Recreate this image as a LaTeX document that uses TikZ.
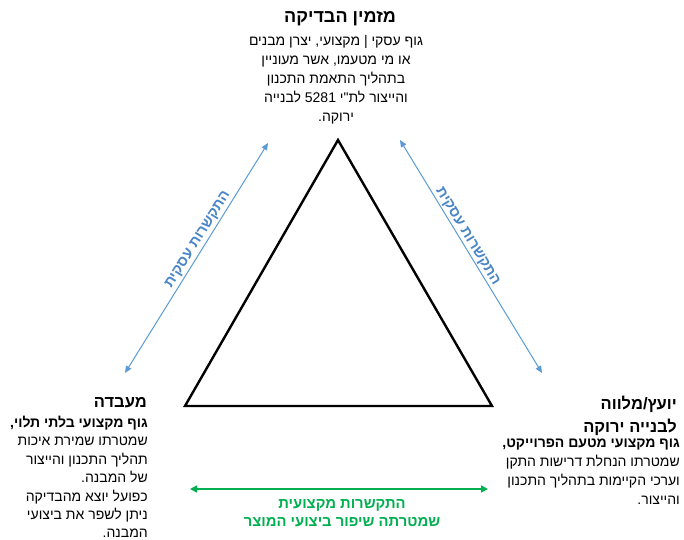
\documentclass[tikz,border=0pt]{standalone}
\usepackage{fontspec}
\setmainfont{Liberation Sans}
\newfontfamily\heb[Script=Hebrew]{Liberation Sans}
\TeXXeTstate=1
\usetikzlibrary{arrows.meta}
\definecolor{oblue}{HTML}{5B9BD5}
\definecolor{olabel}{HTML}{4A86C8}
\definecolor{ogreen}{HTML}{00B050}
\newcommand{\rl}[1]{\beginR #1\endR}
\begin{document}
\begin{tikzpicture}[x=1pt,y=-1pt,
  txt/.style={inner sep=0pt, font=\heb\fontsize{14}{19}\selectfont},
  ttl/.style={inner sep=0pt, font=\heb\bfseries\fontsize{16.5}{23}\selectfont},
  barrow/.style={draw=oblue, line width=1pt, {Triangle[length=7pt,width=6pt]}-{Triangle[length=7pt,width=6pt]}},
  garrow/.style={draw=ogreen, line width=1.5pt, {Triangle[length=7pt,width=7pt]}-{Triangle[length=7pt,width=7pt]}},
  blab/.style={inner sep=1pt, text=olabel, font=\heb\bfseries\fontsize{14.5}{16}\selectfont},
  glab/.style={inner sep=0pt, text=ogreen, align=center, font=\heb\bfseries\fontsize{14.8}{18}\selectfont}]
\useasboundingbox (0,0) rectangle (684,539);
\fill[white] (0,0) rectangle (684,539);

% triangle
\coordinate (A) at (338,140);
\coordinate (B) at (185,406);
\coordinate (C) at (492,406);
\draw[line width=2.4pt, line join=miter] (A) -- (B) -- (C) -- cycle;

% top block
\node[ttl, font=\heb\bfseries\fontsize{18}{23}\selectfont] (client) at (340,19) {\rl{מזמין הבדיקה}};
\node[txt, align=center, anchor=north] (clientbody) at (336,35)
  {\rl{גוף עסקי | מקצועי, יצרן מבנים}\\
   \rl{או מי מטעמו, אשר מעוניין}\\
   \rl{בתהליך התאמת התכנון}\\
   \rl{והייצור לת"י \beginL 5281\endL{} לבנייה}\\
   \rl{ירוקה.}};

% left block
\node[ttl, anchor=east] (lab) at (147,403) {\rl{מעבדה}};
\node[txt, align=right, anchor=north east, font=\heb\fontsize{14}{18.4}\selectfont] (labbody) at (148,416)
  {{\bfseries\rl{גוף מקצועי בלתי תלוי,}}\\
   \rl{שמטרתו שמירת איכות}\\
   \rl{תהליך התכנון והייצור}\\
   \rl{של המבנה.}\\
   \rl{כפועל יוצא מהבדיקה}\\
   \rl{ניתן לשפר את ביצועי}\\
   \rl{המבנה.}};

% right block
\node[ttl, align=right, anchor=north east] (consult) at (677,396)
  {\rl{יועץ/מלווה}\\ \rl{לבנייה ירוקה}};
\node[txt, align=right, anchor=north east] (consultbody) at (680,439)
  {{\bfseries\rl{גוף מקצועי מטעם הפרוייקט,}}\\
   \rl{שמטרתו הנחלת דרישות התקן}\\
   \rl{וערכי הקיימות בתהליך התכנון}\\
   \rl{והייצור.}};

% connectors
\coordinate (l1) at (125,373);
\coordinate (l2) at (268,143);
\draw[barrow] (l1) -- node[pos=0.56, sloped, above=1pt, blab] (llab) {\rl{התקשרות עסקית}} (l2);

\coordinate (r1) at (400,140);
\coordinate (r2) at (542,373);
\draw[barrow] (r1) -- node[pos=0.43, sloped, above=0pt, blab] (rlab) {\rl{התקשרות עסקית}} (r2);

\coordinate (g1) at (190,489);
\coordinate (g2) at (488,489);
\draw[garrow] (g1) -- (g2);
\node[glab, anchor=north] (glabel) at (342,499)
  {\rl{התקשרות מקצועית}\\ \rl{שמטרתה שיפור ביצועי המוצר}};
\end{tikzpicture}
\end{document}
